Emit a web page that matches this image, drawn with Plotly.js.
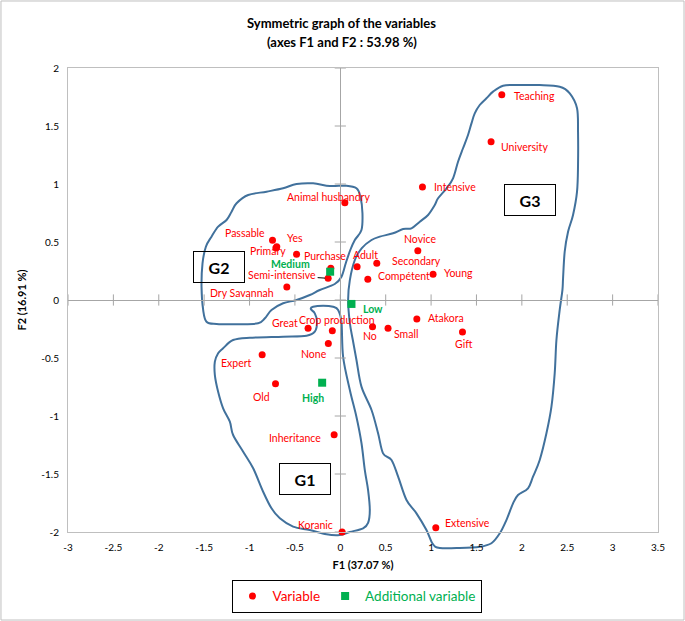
<!DOCTYPE html>
<html>
<head>
<meta charset="utf-8">
<script src="https://cdn.plot.ly/plotly-3.0.1.min.js"></script>
<style>html,body{margin:0;padding:0;background:#fff;}#chart{width:685px;height:621px;}</style>
</head>
<body>
<div id="chart"></div>
<script>
// ---------- data ----------
const varNames = ['Teaching','University','Intensive','Animal husbandry','Passable','Yes','Primary','Purchase','',
  'Semi-intensive','Dry Savannah','Adult','Secondary','Compétent','Novice','Young','Great','Crop production',
  'None','No','Small','Atakora','Gift','Expert','Old','Inheritance','Koranic','Extensive'];
const varF1 = [1.779, 1.661, 0.905, 0.050, -0.747, -0.700, -0.710, -0.482, -0.105,
  -0.134, -0.589, 0.185, 0.402, 0.303, 0.854, 1.022, -0.355, -0.088,
  -0.132, 0.355, 0.526, 0.843, 1.346, -0.861, -0.714, -0.068, 0.020, 1.052];
const varF2 = [1.770, 1.365, 0.974, 0.839, 0.515, 0.458, 0.448, 0.394, 0.273,
  0.187, 0.112, 0.287, 0.316, 0.178, 0.425, 0.222, -0.244, -0.265,
  -0.375, -0.230, -0.244, -0.164, -0.276, -0.472, -0.722, -1.161, -2.000, -1.963];

const supNames = ['Medium','Low','High'];
const supF1 = [-0.112, 0.123, -0.200];
const supF2 = [0.244, -0.034, -0.713];

const xTicks = [-3,-2.5,-2,-1.5,-1,-0.5,0,0.5,1,1.5,2,2.5,3,3.5];
const xTickText = ['-3','-2.5','-2','-1.5','-1','-0.5','0','0.5','1','1.5','2','2.5','3','3.5'];
const yTicks = [-2,-1.5,-1,-0.5,0,0.5,1,1.5,2];
const yTickText = ['-2','-1.5','-1','-0.5','0','0.5','1','1.5','2'];

// group contours (hand-drawn outlines, in F1/F2 units)
const g1F1 = [-0.300,-0.189,-0.079,-0.024,0.013,0.031,0.105,0.178,0.233,0.270,0.306,0.325,0.306,0.251,0.105,-0.006,-0.152,-0.336,-0.520,-0.666,-0.758,-0.850,-0.960,-1.070,-1.181,-1.217,-1.291,-1.346,-1.382,-1.382,-1.346,-1.291,-1.181,-0.997,-0.630,-0.372,-0.281,-0.256,-0.281,-0.325];
const g1F2 = [-0.058,-0.049,-0.058,-0.086,-0.190,-0.491,-0.776,-1.009,-1.233,-1.466,-1.638,-1.810,-1.922,-1.968,-2.000,-2.026,-2.020,-1.983,-1.954,-1.882,-1.796,-1.653,-1.451,-1.308,-1.164,-1.049,-0.934,-0.791,-0.647,-0.532,-0.459,-0.416,-0.345,-0.325,-0.316,-0.308,-0.273,-0.187,-0.115,-0.078];

const g2F1 = [-1.474,-1.511,-1.529,-1.518,-1.481,-1.419,-1.346,-1.253,-1.198,-1.143,-1.015,-0.813,-0.630,-0.482,-0.300,-0.116,0.068,0.178,0.222,0.244,0.233,0.160,0.110,0.061,0.013,-0.061,-0.226,-0.336,-0.482,-0.630,-0.758,-0.831,-0.905,-1.107,-1.363];
const g2F2 = [-0.187,-0.086,0.115,0.316,0.459,0.546,0.632,0.690,0.761,0.834,0.905,0.934,0.963,1.000,1.006,0.983,0.985,0.963,0.891,0.747,0.603,0.517,0.431,0.319,0.201,0.138,0.086,0.043,0.000,-0.028,-0.086,-0.158,-0.201,-0.209,-0.207];

const g3F1 = [1.683,1.793,1.941,2.197,2.417,2.528,2.608,2.619,2.619,2.608,2.564,2.509,2.472,2.454,2.447,2.417,2.381,2.362,2.326,2.271,2.197,2.123,2.068,1.958,1.903,1.830,1.757,1.665,1.536,1.316,1.096,1.019,0.949,0.839,0.729,0.637,0.564,0.471,0.416,0.344,0.233,0.178,0.138,0.105,0.086,0.105,0.160,0.237,0.344,0.435,0.581,0.692,0.784,0.876,0.967,1.041,1.077,1.170,1.242,1.297,1.352,1.407,1.445,1.481,1.536,1.610];
const g3F2 = [1.796,1.847,1.853,1.853,1.839,1.782,1.653,1.451,1.164,0.934,0.733,0.589,0.416,0.187,0.086,-0.086,-0.345,-0.632,-0.920,-1.149,-1.379,-1.523,-1.623,-1.681,-1.753,-1.897,-2.011,-2.097,-2.127,-2.138,-2.138,-2.103,-1.983,-1.839,-1.724,-1.523,-1.379,-1.322,-1.149,-0.948,-0.747,-0.517,-0.345,-0.198,0.000,0.172,0.345,0.448,0.517,0.546,0.575,0.612,0.618,0.675,0.733,0.819,0.877,0.963,1.049,1.192,1.308,1.422,1.523,1.609,1.681,1.739];

const groupNames = ['G1','G2','G3'];
const groupF1 = [-0.393, -1.340, 2.095];
const groupF2 = [-1.541, 0.284, 0.862];

// ---------- styles / label placement ----------
const RED = '#FF0000', GREEN = '#00B050', BLUE = '#41719C', AXIS = '#A6A6A6';
const FONT = 'Lato, "Liberation Sans", sans-serif';
const yMin = -2, yMax = 2;
// [xanchor, xshift, yshift]
const labelPos = {
  'Teaching':['left',10,-1.3],'University':['left',7.7,-5],'Intensive':['left',9.6,0],
  'Animal husbandry':['center',-16.7,5.5],'Passable':['right',-5.4,7.6],'Yes':['left',8,8.7],
  'Primary':['center',-7.6,-3.3],'Purchase':['left',5,-1.4],'Dry Savannah':['right',-11,-5.7],
  'Adult':['center',8,11.7],'Secondary':['left',13,2.6],'Compétent':['left',8,3.3],
  'Novice':['center',2.3,11.7],'Young':['left',9,1],'Great':['right',-8,5],
  'Crop production':['center',5,11],'None':['center',-14.8,-10.5],'No':['center',-3,-9],
  'Small':['left',4,-5.7],'Atakora':['left',9,1],'Gift':['center',2,-12],
  'Expert':['right',-8,-8.6],'Old':['center',-13.7,-13],'Inheritance':['right',-11,-3.6],
  'Koranic':['right',-7,7],'Extensive':['left',7,5],
  'Medium':['right',-18.6,7.4],'Low':['center',22,-5],'High':['center',-9.3,-15.6]
};

function toPaperY(v){ return (v - yMin) / (yMax - yMin); }
function smoothPath(xs, ys){
  const n = xs.length;
  const P = xs.map((x,i)=>[x, toPaperY(ys[i])]);
  let d = 'M' + P[0][0] + ',' + P[0][1];
  for (let i = 0; i < n; i++){
    const p0 = P[(i-1+n)%n], p1 = P[i], p2 = P[(i+1)%n], p3 = P[(i+2)%n];
    const c1 = [p1[0] + (p2[0]-p0[0])/6, p1[1] + (p2[1]-p0[1])/6];
    const c2 = [p2[0] - (p3[0]-p1[0])/6, p2[1] - (p3[1]-p1[1])/6];
    d += ' C' + c1[0] + ',' + c1[1] + ' ' + c2[0] + ',' + c2[1] + ' ' + p2[0] + ',' + p2[1];
  }
  return d + ' Z';
}

const shapes = [
  [g1F1,g1F2],[g2F1,g2F2],[g3F1,g3F2]
].map(g => ({type:'path', xref:'x', yref:'paper', path: smoothPath(g[0], g[1]),
  line:{color:BLUE, width:2}, fillcolor:'rgba(0,0,0,0)', layer:'below'}));
// outer frame of the picture
shapes.push({type:'rect', xref:'paper', yref:'paper', x0:-0.1136, x1:1.0441, y0:-0.1897, y1:1.1444,
  line:{color:'#BFBFBF', width:1}});

const annotations = [];
function addLabel(name, x, y, color, bold){
  const p = labelPos[name];
  if (!p) return;
  annotations.push({x:x, y:y, xref:'x', yref:'y', text: bold ? '<b>'+name+'</b>' : name,
    showarrow:false, xanchor:p[0], yanchor:'middle', xshift:p[1], yshift:p[2],
    font:{family:FONT, size:10.5, color:color}});
}
varNames.forEach((n,i)=>{
  if (n === 'Semi-intensive'){
    annotations.push({x:varF1[i], y:varF2[i], xref:'x', yref:'y', text:n, showarrow:true,
      arrowhead:0, arrowwidth:1, arrowcolor:'#000', ax:-46, ay:-3, standoff:3,
      font:{family:FONT, size:10.5, color:RED}});
  } else addLabel(n, varF1[i], varF2[i], RED, false);
});
supNames.forEach((n,i)=> addLabel(n, supF1[i], supF2[i], GREEN, true));
groupNames.forEach((n,i)=>{
  annotations.push({x:groupF1[i], y:groupF2[i], xref:'x', yref:'y', text:'<b>'+n+'</b>',
    showarrow:false, width:48, height:28, borderpad:1, bordercolor:'#000', borderwidth:1,
    font:{family:FONT, size:16, color:'#000'}});
});
// title (two lines)
annotations.push({xref:'paper', yref:'paper', x:0.4644, y:1.0970, yanchor:'middle',
  text:'<b>Symmetric graph of the variables</b>', showarrow:false, font:{family:FONT, size:13, color:'#000'}});
annotations.push({xref:'paper', yref:'paper', x:0.4644, y:1.0560, yanchor:'middle',
  text:'<b>(axes F1 and F2 : 53.98 %)</b>', showarrow:false, font:{family:FONT, size:13, color:'#000'}});

const traces = [
  {type:'scatter', mode:'markers', x:xTicks, y:xTicks.map(()=>0), showlegend:false, hoverinfo:'skip',
   marker:{symbol:'line-ns-open', size:8, color:AXIS, line:{color:AXIS, width:1}}, cliponaxis:false},
  {type:'scatter', mode:'markers', x:yTicks.map(()=>0), y:yTicks, showlegend:false, hoverinfo:'skip',
   marker:{symbol:'line-ew-open', size:8, color:AXIS, line:{color:AXIS, width:1}}, cliponaxis:false},
  {type:'scatter', mode:'markers', name:'<span style="color:#FF0000">Variable</span>',
   x:varF1, y:varF2, text:varNames, cliponaxis:false,
   marker:{symbol:'circle', size:7, color:RED}},
  {type:'scatter', mode:'markers', name:'<span style="color:#00B050">Additional variable</span>',
   x:supF1, y:supF2, text:supNames, cliponaxis:false,
   marker:{symbol:'square', size:8, color:GREEN}}
];

const layout = {
  width:685, height:621,
  margin:{l:68, r:27, t:68, b:89, pad:0, autoexpand:false},
  paper_bgcolor:'#fff', plot_bgcolor:'#fff',
  font:{family:FONT, color:'#000'},
  showlegend:true,
  legend:{orientation:'h', x:0.489, xanchor:'center', y:-0.103, yanchor:'top',
    bordercolor:'#000', borderwidth:1, bgcolor:'#fff', font:{family:FONT, size:13.5},
    itemwidth:30, traceorder:'normal'},
  xaxis:{range:[-3,3.5], tickmode:'array', tickvals:xTicks, ticktext:xTickText,
    showgrid:false, zeroline:true, zerolinecolor:AXIS, zerolinewidth:1,
    showline:true, mirror:true, linecolor:'#BFBFBF', linewidth:1, ticks:'',
    ticklabelstandoff:6, tickfont:{family:FONT, size:10, color:'#000'},
    title:{text:'<b>F1 (37.07 %)</b>', font:{family:FONT, size:11, color:'#000'}, standoff:9},
    fixedrange:true},
  yaxis:{range:[yMin,yMax], tickmode:'array', tickvals:yTicks, ticktext:yTickText,
    showgrid:false, zeroline:true, zerolinecolor:AXIS, zerolinewidth:1,
    showline:true, mirror:true, linecolor:'#BFBFBF', linewidth:1, ticks:'',
    ticklabelstandoff:6, tickfont:{family:FONT, size:10, color:'#000'},
    title:{text:'<b>F2 (16.91 %)</b>', font:{family:FONT, size:11, color:'#000'}, standoff:12},
    fixedrange:true},
  shapes:shapes,
  annotations:annotations
};

Plotly.newPlot('chart', traces, layout, {displayModeBar:false, staticPlot:true});
</script>
</body>
</html>
